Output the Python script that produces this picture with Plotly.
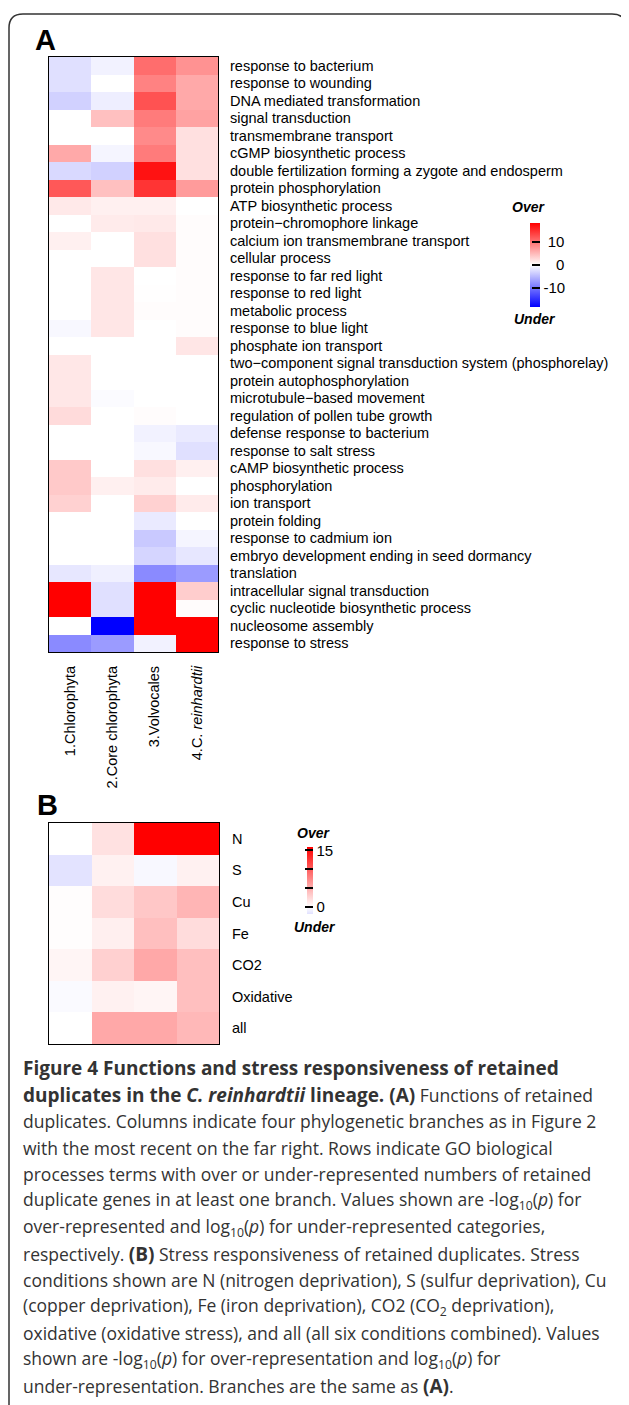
import plotly.graph_objects as go

# The page body has an 8px default margin; work in page pixels and shift.
OFF = 8
W, H = 621, 1397
def px(x): return (x - OFF) / W
def py(y): return 1 - (y - OFF) / H

# ---------------- data ----------------
branches = ["1.Chlorophyta", "2.Core chlorophyta", "3.Volvocales", "4.C. <i>reinhardtii</i>"]

go_terms = [
    "response to bacterium", "response to wounding", "DNA mediated transformation",
    "signal transduction", "transmembrane transport", "cGMP biosynthetic process",
    "double fertilization forming a zygote and endosperm", "protein phosphorylation",
    "ATP biosynthetic process", "protein\u2212chromophore linkage",
    "calcium ion transmembrane transport", "cellular process",
    "response to far red light", "response to red light", "metabolic process",
    "response to blue light", "phosphate ion transport",
    "two\u2212component signal transduction system (phosphorelay)",
    "protein autophosphorylation", "microtubule\u2212based movement",
    "regulation of pollen tube growth", "defense response to bacterium",
    "response to salt stress", "cAMP biosynthetic process", "phosphorylation",
    "ion transport", "protein folding", "response to cadmium ion",
    "embryo development ending in seed dormancy", "translation",
    "intracellular signal transduction", "cyclic nucleotide biosynthetic process",
    "nucleosome assembly", "response to stress",
]

chlorophyta = [-2.2, -2.2, -3.3, 0, 0, 6.2, -2.7, 12, 1.6, 0, 1.1, 0, 0, 0, 0, -0.5, 0,
               1.7, 1.7, 1.7, 2.6, 0, 0, 3.9, 3.9, 3.3, 0, 0, 0, -1.7, 25, 25, 0, -8.4]
core_chlorophyta = [-0.9, 0, -1.2, 4.5, 0, -0.7, -3.3, 4.5, 1.1, 1.4, 0, 0, 1.8, 1.8, 1.8, 1.8, 0,
                    0, 0, -0.3, 0, 0, 0, 0, 1.1, 0, 0, 0, 0, -1.1, -2.2, -2.2, -25, -7.2]
volvocales = [10.5, 9, 12.4, 9.5, 8.4, 9.5, 17, 14.6, 1.1, 1.6, 2.2, 2.2, 0, 0.1, 0.2, 0, 0,
              0, 0, 0, 0.2, -0.9, -0.5, 2.2, 1.4, 3.3, -1.5, -3.9, -3, -8.4, 25, 25, 25, -0.9]
reinhardtii = [7.8, 6.2, 6.2, 6.7, 2.2, 2.2, 2.2, 7.2, 0, 0.2, 0.2, 0.2, 0.2, 0.2, 0.2, 0.2, 1.8,
               0, 0, 0, 0, -1.5, -2.2, 1.1, 0, 1.4, 0, -0.7, -1.7, -7.2, 3.6, 0.2, 25, 25]

stress = ["N", "S", "Cu", "Fe", "CO2", "Oxidative", "all"]
stress_chlorophyta = [0, -1.7, 0.1, 0.1, 0.6, -0.3, 0]
stress_core = [1.9, 0.9, 2.2, 1.0, 2.9, 0.9, 5.4]
stress_volvocales = [17, -0.4, 3.5, 4.0, 5.4, 0.6, 5.4]
stress_reinhardtii = [17, 0.9, 4.6, 2.2, 4.0, 4.0, 4.4]

colbar_a_ticks = [-10, 0, 10]
colbar_b_ticks = [0, 5, 10, 15]

# ---------------- figure ----------------
zA = [list(r) for r in zip(chlorophyta, core_chlorophyta, volvocales, reinhardtii)]
zB = [list(r) for r in zip(stress_chlorophyta, stress_core, stress_volvocales, stress_reinhardtii)]
xi = list(range(len(branches)))

LAB = dict(family="Liberation Sans, Arial", size=14.5, color="black")

fig = go.Figure()
zmA = 18.3
fig.add_trace(go.Heatmap(
    z=zA, x=xi, y=go_terms, xaxis="x", yaxis="y",
    colorscale=[[0, "rgb(0,0,255)"], [0.5, "rgb(255,255,255)"], [1, "rgb(255,0,0)"]],
    zmin=-zmA, zmax=zmA, hoverinfo="skip",
    colorbar=dict(
        thickness=10, thicknessmode="pixels", len=84, lenmode="pixels",
        x=px(530), xanchor="left", xpad=0, y=py(265), yanchor="middle", ypad=0,
        outlinewidth=0, tickvals=colbar_a_ticks,
        ticktext=["-10", "\u2008\u20070", "\u200810"],
        ticks="inside", ticklen=8, tickwidth=2, tickcolor="black",
        tickfont=dict(family="Liberation Sans, Arial", size=15, color="black"),
    ),
))
zminB, zmaxB = -1.84, 15.9
f0 = -zminB / (zmaxB - zminB)
lb = int(round(255 * (1 - (-zminB) / zmaxB)))
fig.add_trace(go.Heatmap(
    z=zB, x=xi, y=stress, xaxis="x2", yaxis="y2",
    colorscale=[[0, f"rgb({lb},{lb},255)"], [f0, "rgb(255,255,255)"], [1, "rgb(255,0,0)"]],
    zmin=zminB, zmax=zmaxB, hoverinfo="skip",
    colorbar=dict(
        thickness=6, thicknessmode="pixels", len=67, lenmode="pixels",
        x=px(307), xanchor="left", xpad=0, y=py(880.5), yanchor="middle", ypad=0,
        outlinewidth=0, tickvals=colbar_b_ticks, ticktext=["0", "\u00a0", "\u00a0", "15"],
        ticks="inside", ticklen=8, tickwidth=2, tickcolor="black",
        tickfont=dict(family="Liberation Sans, Arial", size=15, color="black"),
    ),
))

box = dict(showline=True, mirror=True, linecolor="black", linewidth=1.2,
           showgrid=False, zeroline=False)
fig.update_layout(
    width=W, height=H, margin=dict(l=0, r=0, t=0, b=0),
    paper_bgcolor="white", plot_bgcolor="white", showlegend=False,
    xaxis=dict(domain=[px(49), px(218)], anchor="y", range=[-0.5, 3.5],
               tickvals=xi, ticktext=branches, tickangle=-90, tickfont=LAB,
               ticks="outside", ticklen=7, tickcolor="rgba(0,0,0,0)", **box),
    yaxis=dict(domain=[py(652), py(57)], anchor="x", side="right", autorange="reversed",
               type="category", tickfont=LAB, ticks="outside", ticklen=8,
               tickcolor="rgba(0,0,0,0)", **box),
    xaxis2=dict(domain=[px(49), px(219)], anchor="y2", range=[-0.5, 3.5],
                showticklabels=False, ticks="", **box),
    yaxis2=dict(domain=[py(1044), py(823)], anchor="x2", side="right", autorange="reversed",
                type="category", tickfont=LAB, ticks="outside", ticklen=9,
                tickcolor="rgba(0,0,0,0)", **box),
)

ann = []
def add(text, x, y, size, xanchor="center", yanchor="middle", family="Liberation Sans, Arial", color="black"):
    ann.append(dict(text=text, x=px(x), y=py(y), xref="paper", yref="paper",
                    xanchor=xanchor, yanchor=yanchor, showarrow=False,
                    font=dict(family=family, size=size, color=color)))

add("<b>A</b>", 33, 40, 29, xanchor="left")
add("<b>B</b>", 35, 805, 29, xanchor="left")
add("<b><i>Over</i></b>", 528, 207, 14)
add("<b><i>Under</i></b>", 535, 319, 14)
add("<b><i>Over</i></b>", 313, 833, 14)
add("<b><i>Under</i></b>", 315, 927, 14)

BO = '<span style="font-size:19px"><b>'
BC = '</b></span>'
cap_lines = [
    BO + "Figure 4 Functions and stress responsiveness of retained" + BC,
    BO + "duplicates in the <i>C. reinhardtii</i> lineage. (A)" + BC + " Functions of retained",
    "duplicates. Columns indicate four phylogenetic branches as in Figure 2",
    "with the most recent on the far right. Rows indicate GO biological",
    "processes terms with over or under-represented numbers of retained",
    "duplicate genes in at least one branch. Values shown are -log<sub>10</sub>(<i>p</i>) for",
    "over-represented and log<sub>10</sub>(<i>p</i>) for under-represented categories,",
    "respectively. " + BO + "(B)" + BC + " Stress responsiveness of retained duplicates. Stress",
    "conditions shown are N (nitrogen deprivation), S (sulfur deprivation), Cu",
    "(copper deprivation), Fe (iron deprivation), CO2 (CO<sub>2</sub> deprivation),",
    "oxidative (oxidative stress), and all (all six conditions combined). Values",
    "shown are -log<sub>10</sub>(<i>p</i>) for over-representation and log<sub>10</sub>(<i>p</i>) for",
    "under-representation. Branches are the same as " + BO + "(A)" + BC + ".",
]
for i, line in enumerate(cap_lines):
    add(line, 21, 1068 + i * 26.5, 17.5, xanchor="left", family="Open Sans", color="#333333")

fig.update_layout(annotations=ann)

frame = (f"M {px(9)},{py(1420)} L {px(9)},{py(28)} Q {px(9)},{py(14)} {px(23)},{py(14)} "
         f"L {px(612)},{py(14)} Q {px(626)},{py(14)} {px(626)},{py(28)} L {px(626)},{py(1420)}")
fig.add_shape(type="path", path=frame, xref="paper", yref="paper",
              line=dict(color="#333333", width=1.5))

fig.write_html("out.html")
